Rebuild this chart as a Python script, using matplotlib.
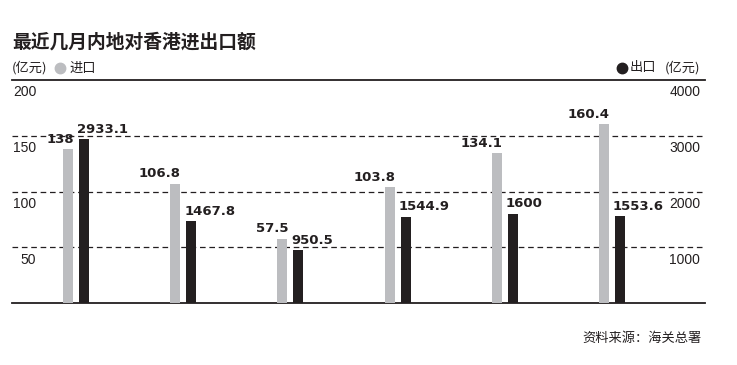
import matplotlib
matplotlib.use("Agg")
import matplotlib.pyplot as plt
from matplotlib.lines import Line2D

categories = ["2015.12", "2016.1", "2016.2", "2016.3", "2016.4", "2016.5"]
imports = [138, 106.8, 57.5, 103.8, 134.1, 160.4]
exports = [2933.1, 1467.8, 950.5, 1544.9, 1600, 1553.6]
import_labels = ["138", "106.8", "57.5", "103.8", "134.1", "160.4"]
export_labels = ["2933.1", "1467.8", "950.5", "1544.9", "1600", "1553.6"]
left_ticks = [50, 100, 150, 200]
right_ticks = [1000, 2000, 3000, 4000]

GRAY = "#bcbdc0"
BLACK = "#231f20"
LATIN = ["Liberation Sans", "Noto Sans CJK SC"]
CJK = ["Noto Sans CJK SC", "DejaVu Sans"]

W, H = 737, 365
fig = plt.figure(figsize=(W / 100, H / 100), dpi=100)
fig.patch.set_facecolor("white")

x0, x1, ytop, ybot = 12, 705, 80, 303
ax = fig.add_axes([x0 / W, (H - ybot) / H, (x1 - x0) / W, (ybot - ytop) / H])
ax2 = ax.twinx()

px = 107.2
ax.set_xlim(-(76 - x0) / px, (x1 - 76) / px)
ax.set_ylim(0, 200)
ax2.set_ylim(0, 4000)

bw = 10 / px
off = 8 / px
xs = list(range(len(categories)))
ax.bar([x - off for x in xs], imports, width=bw, color=GRAY, zorder=3)
ax2.bar([x + off for x in xs], exports, width=bw, color=BLACK, zorder=3)

for a in (ax, ax2):
    for s in ("left", "right", "top", "bottom"):
        a.spines[s].set_visible(False)
    a.set_yticks([])
    a.tick_params(length=0)

for s in ("top", "bottom"):
    ax.spines[s].set_visible(True)
    ax.spines[s].set_linewidth(1.3)
    ax.spines[s].set_color(BLACK)

for v in left_ticks[:-1]:
    ax.axhline(v, color=BLACK, lw=0.9, ls=(0, (4.5, 3)), zorder=1)

ax.set_xticks(xs)
ax.set_xticklabels(categories, fontsize=10, family=LATIN, color=BLACK)
ax.tick_params(axis="x", length=0, pad=6)
ax2.set_xticks([])

# axis labels placed inside, just below each gridline
for v in left_ticks:
    ax.annotate(str(v), xy=(0, v), xycoords=ax.get_yaxis_transform(),
                xytext=(17.5, -9), textcoords="offset points",
                ha="right", va="center", fontsize=10, family=LATIN, color=BLACK)
for v in right_ticks:
    ax2.annotate(str(v), xy=(1, v), xycoords=ax2.get_yaxis_transform(),
                 xytext=(-3.5, -9), textcoords="offset points",
                 ha="right", va="center", fontsize=10, family=LATIN, color=BLACK)

for x, v, t in zip(xs, imports, import_labels):
    ax.annotate(t, xy=(x - off + bw / 2, v), xytext=(0.5, 2.5), textcoords="offset points",
                ha="right", va="bottom", fontsize=9.5, fontweight="bold",
                family="DejaVu Sans", color=BLACK, zorder=5)
for x, v, t in zip(xs, exports, export_labels):
    ax2.annotate(t, xy=(x + off - bw / 2, v), xytext=(-1.5, 2.5), textcoords="offset points",
                 ha="left", va="bottom", fontsize=9.5, fontweight="bold",
                 family="DejaVu Sans", color=BLACK, zorder=5)

# title and legend header
fig.text(12 / W, 1 - 42 / H, "最近几月内地对香港进出口额", fontsize=13.5, fontweight="bold",
         family=CJK, color=BLACK, ha="left", va="center")
fig.text(12 / W, 1 - 68 / H, "(亿元)", fontsize=9.5, family=CJK, color=BLACK,
         ha="left", va="center")
fig.add_artist(Line2D([60 / W], [1 - 68 / H], marker="o", ms=7.5, color=GRAY,
                      mec=GRAY, lw=0, transform=fig.transFigure))
fig.text(69 / W, 1 - 68 / H, "进口", fontsize=9.5, family=CJK, color=BLACK,
         ha="left", va="center")
fig.text(700 / W, 1 - 68 / H, "(亿元)", fontsize=9.5, family=CJK, color=BLACK,
         ha="right", va="center")
fig.text(630 / W, 1 - 68 / H, "出口", fontsize=9.5, family=CJK, color=BLACK,
         ha="left", va="center")
fig.add_artist(Line2D([622 / W], [1 - 68 / H], marker="o", ms=7.5, color=BLACK,
                      mec=BLACK, lw=0, transform=fig.transFigure))

fig.text(702 / W, 1 - 338 / H, "资料来源：海关总署", fontsize=9.5, family=CJK, color=BLACK,
         ha="right", va="center")

fig.savefig("out.png", dpi=100, facecolor="white")
